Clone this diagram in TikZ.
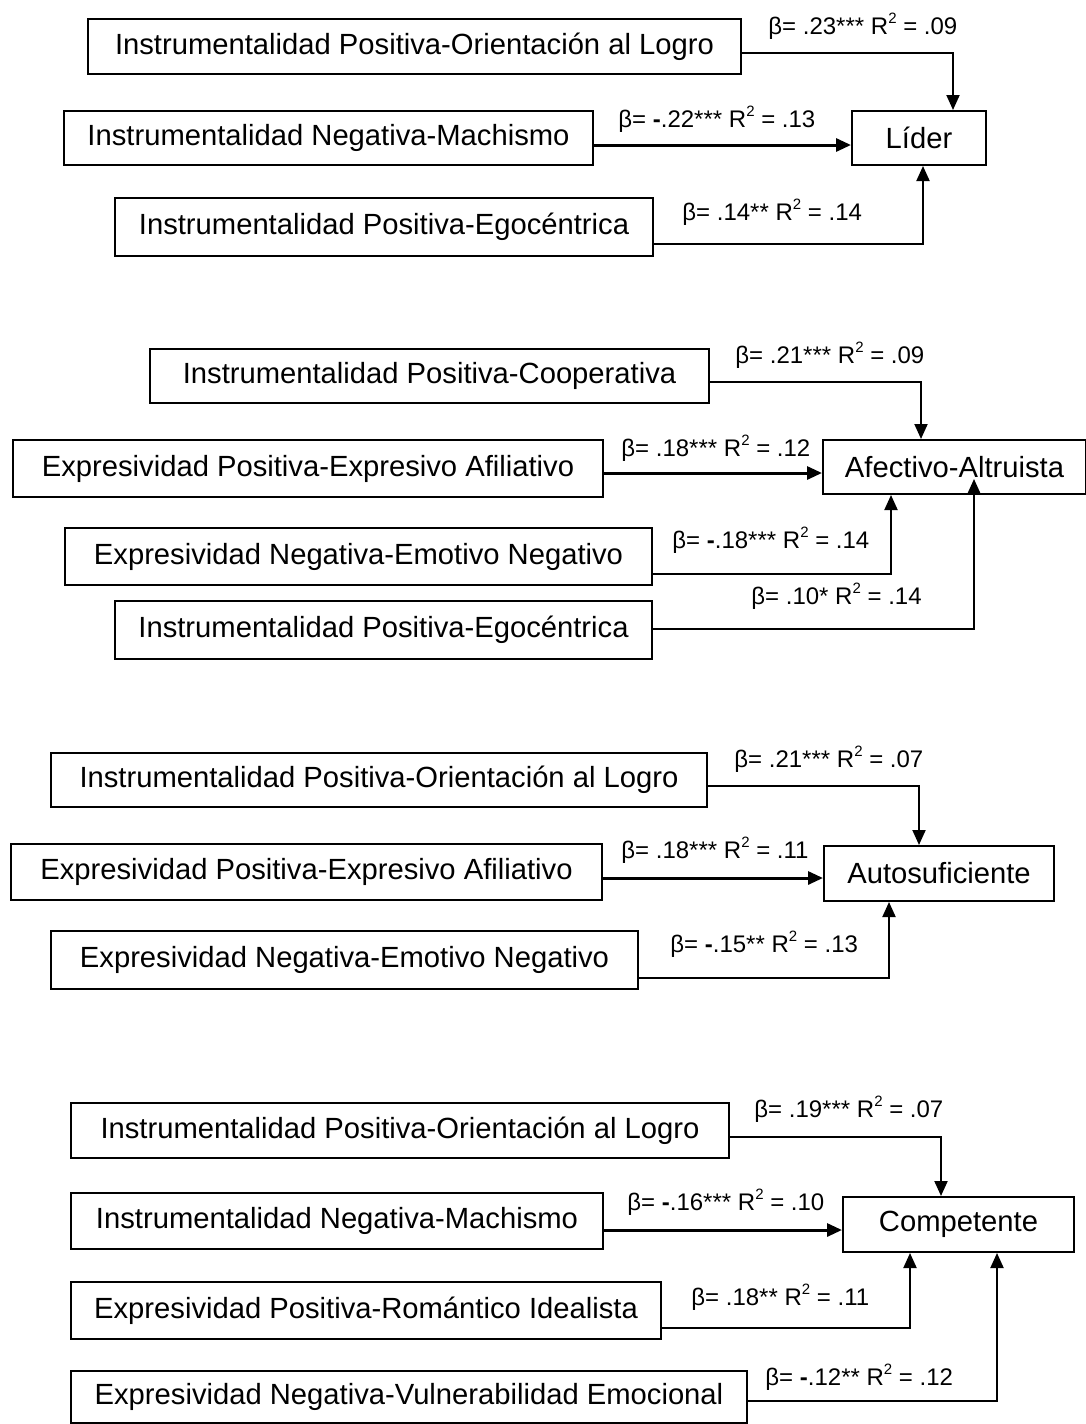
\documentclass[tikz,border=0pt]{standalone}
\usepackage{fontspec}
\setmainfont{Liberation Sans}
\usetikzlibrary{arrows.meta,calc}
\newcommand\rsq{R\raisebox{5.2pt}{\fontsize{7.5pt}{8pt}\selectfont 2}}
\begin{document}
\begin{tikzpicture}[x=0.5pt,y=-0.5pt,
  box/.style 2 args={draw, line width=1pt, anchor=north west, inner sep=0pt,
    minimum width=#1*0.5pt, minimum height=#2*0.5pt,
    font=\fontsize{14.6pt}{17pt}\selectfont},
  lbl/.style={anchor=base west, inner sep=0pt, font=\fontsize{12pt}{14pt}\selectfont},
  conn/.style={line width=1pt, -{Triangle[length=7.5pt,width=6.5pt]}},
  connb/.style={conn, line width=1.5pt}]
\useasboundingbox (0,0) rectangle (1086,1424);

% ---------- Section 1: Lider
\node[box={653}{55}] (A1) at (87,18) {Instrumentalidad Positiva-Orientación al Logro};
\node[box={529}{54}] (A2) at (63,110) {Instrumentalidad Negativa-Machismo};
\node[box={538}{58}] (A3) at (114,197) {Instrumentalidad Positiva-Egocéntrica};
\node[box={134}{54}] (L) at (851,110) {Líder};

\draw[conn] ($(A1.east)+(0,6.5)$) -| ($(L.north)+(34,0)$);
\coordinate (a2o) at ($(A2.east)+(0,7)$);
\draw[connb] (a2o) -- (a2o -| L.west);
\draw[conn] ($(A3.east)+(0,17)$) -| ($(L.south)+(4,0)$);

\node[lbl] (l1) at (768,34) {β= .23*** \rsq{} = .09};
\node[lbl] (l2) at (618,127) {β= \textbf{-}.22*** \rsq{} = .13};
\node[lbl] (l3) at (682,220) {β= .14** \rsq{} = .14};

% ---------- Section 2: Afectivo-Altruista
\node[box={559}{54}] (B1) at (149,348) {Instrumentalidad Positiva-Cooperativa};
\node[box={590}{57}] (B2) at (12,439) {Expresividad Positiva-Expresivo Afiliativo};
\node[box={587}{57}] (B3) at (64,527) {Expresividad Negativa-Emotivo Negativo};
\node[box={537}{58}] (B4) at (114,600) {Instrumentalidad Positiva-Egocéntrica};
\node[box={263}{54}] (AA) at (822,439) {Afectivo-Altruista};

\draw[conn] ($(B1.east)+(0,6)$) -| ($(AA.north)+(-33.5,0)$);
\coordinate (b2o) at ($(B2.east)+(0,4.5)$);
\draw[connb] (b2o) -- (b2o -| AA.west);
\draw[conn] ($(B3.east)+(0,17.5)$) -| ($(AA.south)+(-63.5,0)$);
\draw[conn] ($(B4.east)+(0,-1)$) -| ($(AA.south)+(19.5,-16)$);

\node[lbl] (m1) at (735,363) {β= .21*** \rsq{} = .09};
\node[lbl] (m2) at (621,456) {β= .18*** \rsq{} = .12};
\node[lbl] (m3) at (672,548) {β= \textbf{-}.18*** \rsq{} = .14};
\node[lbl] (m4) at (751,604) {β= .10* \rsq{} = .14};

% ---------- Section 3: Autosuficiente
\node[box={656}{54}] (C1) at (50,752) {Instrumentalidad Positiva-Orientación al Logro};
\node[box={591}{56}] (C2) at (10,843) {Expresividad Positiva-Expresivo Afiliativo};
\node[box={587}{58}] (C3) at (50,930) {Expresividad Negativa-Emotivo Negativo};
\node[box={230}{55}] (AS) at (823,845) {Autosuficiente};

\draw[conn] ($(C1.east)+(0,6)$) -| ($(AS.north)+(-20,0)$);
\coordinate (c2o) at ($(C2.east)+(0,6)$);
\draw[connb] (c2o) -- (c2o -| AS.west);
\draw[conn] ($(C3.east)+(0,18)$) -| ($(AS.south)+(-50,0)$);

\node[lbl] (n1) at (734,767) {β= .21*** \rsq{} = .07};
\node[lbl] (n2) at (621,858) {β= .18*** \rsq{} = .11};
\node[lbl] (n3) at (670,952) {β= \textbf{-}.15** \rsq{} = .13};

% ---------- Section 4: Competente
\node[box={658}{55}] (D1) at (70,1102) {Instrumentalidad Positiva-Orientación al Logro};
\node[box={532}{56}] (D2) at (70,1192) {Instrumentalidad Negativa-Machismo};
\node[box={590}{57}] (D3) at (70,1281) {Expresividad Positiva-Romántico Idealista};
\node[box={676}{52}] (D4) at (70,1370) {Expresividad Negativa-Vulnerabilidad Emocional};
\node[box={231}{55}] (CO) at (842,1196) {Competente};

\draw[conn] ($(D1.east)+(0,6.5)$) -| ($(CO.north)+(-17.5,0)$);
\coordinate (d2o) at ($(D2.east)+(0,9)$);
\draw[connb] (d2o) -- (d2o -| CO.west);
\draw[conn] ($(D3.east)+(0,17.5)$) -| ($(CO.south)+(-48.5,0)$);
\draw[conn] ($(D4.east)+(0,4)$) -| ($(CO.south)+(38.5,0)$);

\node[lbl] (p1) at (754,1117) {β= .19*** \rsq{} = .07};
\node[lbl] (p2) at (627,1210) {β= \textbf{-}.16*** \rsq{} = .10};
\node[lbl] (p3) at (691,1305) {β= .18** \rsq{} = .11};
\node[lbl] (p4) at (765,1385) {β= \textbf{-}.12** \rsq{} = .12};
\end{tikzpicture}
\end{document}
